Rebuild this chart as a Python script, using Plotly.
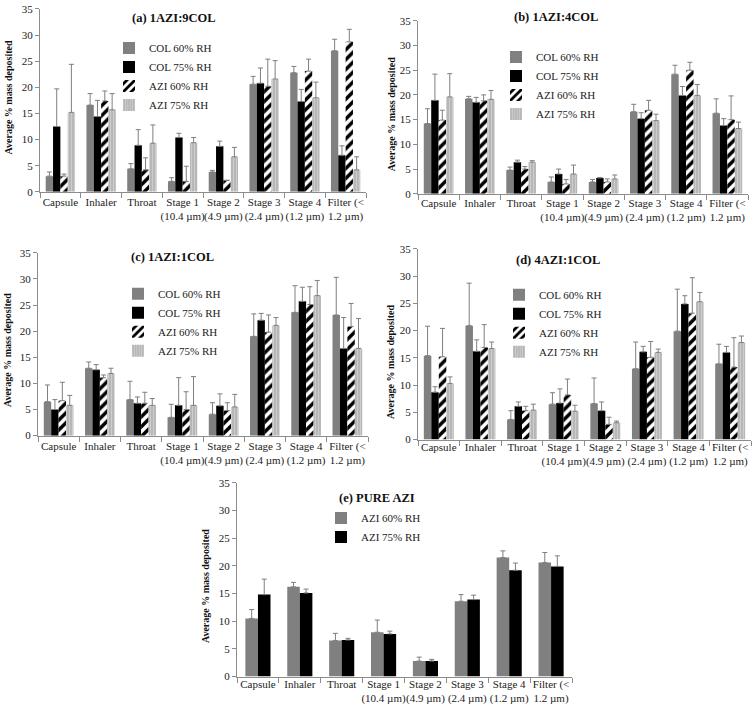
import plotly.graph_objects as go

categories = ["Capsule", "Inhaler", "Throat", "Stage 1<br>(10.4 µm)", "Stage 2<br>(4.9 µm)",
              "Stage 3<br>(2.4 µm)", "Stage 4<br>(1.2 µm)", "Filter (&lt;<br>1.2 µm)"]
series_names = ["COL 60% RH", "COL 75% RH", "AZI 60% RH", "AZI 75% RH"]
pure_names = ["AZI 60% RH", "AZI 75% RH"]
y_ticks = [0, 5, 10, 15, 20, 25, 30, 35]

# (a) 1AZI:9COL  values / top of error bar
a_col60 = [3.0, 16.6, 4.4, 2.0, 3.8, 20.6, 22.8, 27.0]
a_col60_top = [3.8, 18.8, 5.4, 2.7, 4.1, 22.1, 24.0, 29.2]
a_col75 = [12.5, 14.4, 8.9, 10.4, 8.7, 20.8, 17.3, 7.0]
a_col75_top = [19.7, 17.5, 11.9, 11.2, 9.7, 23.7, 19.6, 8.8]
a_azi60 = [3.0, 17.4, 4.2, 2.0, 2.2, 20.2, 23.1, 28.7]
a_azi60_top = [3.4, 19.3, 6.5, 4.9, 2.2, 25.4, 25.4, 31.1]
a_azi75 = [15.2, 15.7, 9.3, 9.4, 6.7, 21.6, 18.0, 4.2]
a_azi75_top = [24.4, 18.8, 12.8, 10.4, 8.5, 25.1, 21.0, 6.7]

# (b) 1AZI:4COL
b_col60 = [14.2, 19.2, 4.8, 2.4, 2.4, 16.6, 24.2, 16.3]
b_col60_top = [17.2, 19.7, 5.4, 3.4, 2.9, 18.1, 26.0, 19.2]
b_col75 = [18.9, 18.5, 6.4, 4.0, 3.2, 15.2, 19.9, 13.8]
b_col75_top = [24.2, 19.5, 6.8, 5.0, 3.3, 16.4, 21.7, 15.2]
b_azi60 = [14.9, 18.8, 5.0, 2.0, 2.4, 16.9, 25.0, 15.0]
b_azi60_top = [16.9, 20.0, 5.5, 2.9, 3.0, 18.9, 26.6, 19.8]
b_azi75 = [19.6, 19.1, 6.4, 4.0, 3.0, 14.8, 19.9, 13.2]
b_azi75_top = [24.3, 20.9, 6.7, 5.8, 3.8, 16.1, 22.1, 14.5]

# (c) 1AZI:1COL
c_col60 = [6.5, 12.9, 6.9, 3.5, 4.1, 19.0, 23.6, 23.1]
c_col60_top = [9.7, 14.1, 10.4, 6.0, 6.3, 23.3, 28.7, 30.3]
c_col75 = [5.0, 12.6, 6.2, 5.8, 5.7, 22.1, 25.7, 16.7]
c_col75_top = [6.9, 13.6, 7.4, 11.1, 8.0, 23.4, 28.4, 22.6]
c_azi60 = [6.7, 11.1, 6.2, 5.0, 4.8, 19.8, 25.1, 20.9]
c_azi60_top = [10.2, 11.6, 8.3, 8.4, 6.3, 23.1, 28.5, 25.3]
c_azi75 = [5.8, 11.9, 5.8, 5.8, 5.5, 21.1, 26.8, 16.7]
c_azi75_top = [7.7, 12.9, 7.1, 11.3, 7.9, 22.6, 29.7, 22.4]

# (d) 4AZI:1COL
d_col60 = [15.4, 20.9, 3.7, 6.5, 6.6, 13.0, 19.9, 13.9]
d_col60_top = [20.8, 28.7, 5.3, 8.6, 11.3, 17.9, 27.6, 17.5]
d_col75 = [8.7, 16.2, 6.1, 6.7, 5.3, 16.1, 24.9, 16.0]
d_col75_top = [9.7, 18.3, 6.9, 9.3, 6.9, 17.1, 26.4, 17.1]
d_azi60 = [15.2, 16.9, 5.3, 8.2, 2.8, 15.1, 23.2, 13.3]
d_azi60_top = [20.4, 21.1, 6.1, 11.1, 4.1, 18.0, 29.7, 18.7]
d_azi75 = [10.3, 16.7, 5.4, 5.2, 3.1, 16.0, 25.3, 17.8]
d_azi75_top = [11.5, 17.9, 6.5, 6.3, 3.4, 16.6, 27.0, 19.0]

# (e) PURE AZI
e_azi60 = [10.5, 16.2, 6.5, 8.0, 2.8, 13.6, 21.5, 20.6]
e_azi60_top = [12.1, 17.0, 7.8, 10.2, 3.5, 14.8, 22.7, 22.4]
e_azi75 = [14.8, 15.1, 6.6, 7.7, 2.8, 13.9, 19.2, 19.9]
e_azi75_top = [17.6, 15.8, 6.9, 8.2, 3.1, 14.7, 20.5, 21.8]

panel_titles = ["(a) 1AZI:9COL", "(b) 1AZI:4COL", "(c) 1AZI:1COL", "(d) 4AZI:1COL", "(e) PURE AZI"]
y_title = "Average % mass deposited"

W, H = 756, 712
FONT = "Liberation Serif"
ERR_COL = "#7f7f7f"


def px_x(a, b):
    return [a / W, b / W]


def px_y(top, bottom):
    return [1 - bottom / H, 1 - top / H]


styles = [
    dict(color="#808080"),
    dict(color="#000000"),
    dict(color="#ffffff", pattern=dict(shape="/", fgcolor="#000000", bgcolor="#ffffff",
                                       fgopacity=1, size=7, solidity=0.5)),
    dict(color="#c4c4c4", pattern=dict(shape="|", fgcolor="#e6e6e6", bgcolor="#b4b4b4",
                                       size=3, solidity=0.4)),
]

fig = go.Figure()

panels = [
    ([a_col60, a_col75, a_azi60, a_azi75], [a_col60_top, a_col75_top, a_azi60_top, a_azi75_top]),
    ([b_col60, b_col75, b_azi60, b_azi75], [b_col60_top, b_col75_top, b_azi60_top, b_azi75_top]),
    ([c_col60, c_col75, c_azi60, c_azi75], [c_col60_top, c_col75_top, c_azi60_top, c_azi75_top]),
    ([d_col60, d_col75, d_azi60, d_azi75], [d_col60_top, d_col75_top, d_azi60_top, d_azi75_top]),
]

for p, (vals, tops) in enumerate(panels):
    ax = "" if p == 0 else str(p + 1)
    for s in range(4):
        err = [max(t - v, 0) for t, v in zip(tops[s], vals[s])]
        fig.add_trace(go.Bar(
            x=categories, y=vals[s], name=series_names[s],
            xaxis="x" + ax, yaxis="y" + ax, legend="legend" + ax,
            marker=dict(line=dict(width=0), **styles[s]),
            error_y=dict(type="data", symmetric=False, array=err, arrayminus=[0] * 8,
                         color=ERR_COL, thickness=1, width=2.5),
        ))

e_vals = [e_azi60, e_azi75]
e_tops = [e_azi60_top, e_azi75_top]
e_styles = [dict(color="#808080"), dict(color="#000000")]
for s in range(2):
    err = [max(t - v, 0) for t, v in zip(e_tops[s], e_vals[s])]
    fig.add_trace(go.Bar(
        x=categories, y=e_vals[s], name=pure_names[s],
        xaxis="x5", yaxis="y5", legend="legend5",
        width=0.3, offset=-0.3 + 0.3 * s,
        marker=dict(line=dict(width=0), **e_styles[s]),
        error_y=dict(type="data", symmetric=False, array=err, arrayminus=[0] * 8,
                     color=ERR_COL, thickness=1, width=2.5),
    ))

# domains in px: (left, right, top, bottom)
boxes = [(40, 366, 3, 189), (418, 748, 15, 191), (38, 368, 251, 437),
         (418, 751, 247, 441), (237, 572, 485, 682)]
title_pos = [(174, 12), (556, 11), (172, 255), (558, 258), (377, 500)]
ytitle_pos = [(8, 93), (391, 110), (7, 350), (391, 362), (205, 590)]
legend_pos = [(109, 28), (496, 37), (118, 278), (499, 279), (321, 506)]
standoffs = [0, -1, 0, -3, -3]

layout = dict(
    width=W, height=H, margin=dict(l=0, r=0, t=0, b=0),
    paper_bgcolor="white", plot_bgcolor="white",
    barmode="group", bargap=0.28, bargroupgap=0,
    font=dict(family=FONT, size=11, color="#222222"),
    showlegend=True,
)
annotations = []
for i, (l, r, t, b) in enumerate(boxes):
    sfx = "" if i == 0 else str(i + 1)
    layout["xaxis" + sfx] = dict(
        domain=px_x(l, r), anchor="y" + sfx, type="category",
        showline=True, linecolor="#8c8c8c", linewidth=1,
        ticks="outside", tickson="boundaries", ticklen=5, tickcolor="#8c8c8c",
        ticklabelstandoff=standoffs[i],
        showgrid=False, tickfont=dict(family=FONT, size=11, color="#222222"),
        tickangle=0, fixedrange=True,
    )
    layout["yaxis" + sfx] = dict(
        domain=px_y(t, b), anchor="x" + sfx, range=[0, 35],
        tickvals=y_ticks, showline=True, linecolor="#8c8c8c", linewidth=1,
        ticks="outside", ticklen=4, tickcolor="#8c8c8c", showgrid=False, zeroline=False,
        tickfont=dict(family=FONT, size=11, color="#222222"),
    )
    lx, ly = legend_pos[i]
    layout["legend" + sfx] = dict(
        x=lx / W, y=1 - ly / H, xanchor="left", yanchor="top",
        xref="paper", yref="paper",
        bgcolor="rgba(0,0,0,0)", font=dict(family=FONT, size=11, color="#222222"),
        itemwidth=30, tracegroupgap=0,
    )
    tx, ty = title_pos[i]
    annotations.append(dict(
        text="<b>" + panel_titles[i] + "</b>", x=tx / W, y=1 - ty / H,
        xref="paper", yref="paper", xanchor="center", yanchor="middle", showarrow=False,
        font=dict(family=FONT, size=12.5, color="#111111"),
    ))
    yx, yy = ytitle_pos[i]
    annotations.append(dict(
        text="<b>" + y_title + "</b>", x=yx / W, y=1 - yy / H,
        xref="paper", yref="paper", xanchor="center", yanchor="middle",
        showarrow=False, textangle=-90,
        font=dict(family=FONT, size=10, color="#111111"),
    ))
layout["annotations"] = annotations
fig.update_layout(**layout)

fig.write_html("out.html", config={"displayModeBar": False},
               post_script="document.body.style.margin='0';document.body.style.overflow='hidden';")
